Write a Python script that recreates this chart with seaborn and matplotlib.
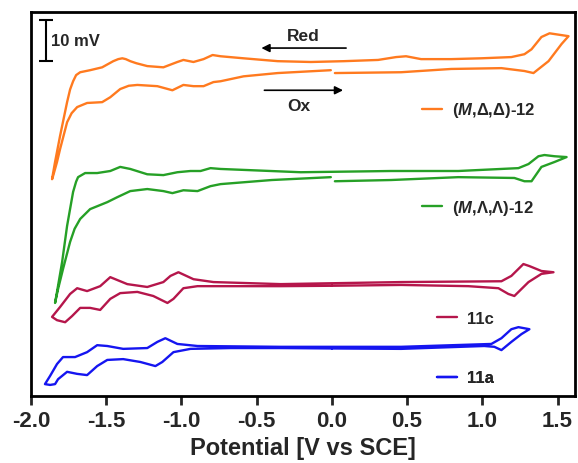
import pandas as pd
import matplotlib.pyplot as plt
import seaborn as sns
from matplotlib.lines import Line2D

# Potencial (V vs SCE) e corrente (unidades da barra de escala, curvas deslocadas)
orange_E = [0.02, 0.46, 0.793, 1.127, 1.28, 1.34, 1.44, 1.527, 1.573,
            1.447, 1.393, 1.327, 1.28, 1.193, 0.993, 0.793, 0.593, 0.493, 0.427, 0.307, 0.08,
            -0.14, -0.36, -0.587, -0.74, -0.793, -0.853, -0.92, -0.987, -1.027, -1.12, -1.227,
            -1.30, -1.34, -1.37, -1.393, -1.42, -1.453, -1.527, -1.607, -1.673, -1.70, -1.72,
            -1.74, -1.76, -1.807, -1.84, -1.86,
            -1.853, -1.827, -1.807, -1.76, -1.73, -1.693, -1.627, -1.527, -1.473, -1.407,
            -1.35, -1.293, -1.16, -1.06, -0.987, -0.92, -0.853, -0.787, -0.74, -0.587, -0.36,
            -0.007]
orange_I = [78.8, 79.0, 79.8, 80.0, 79.3, 78.8, 81.7, 85.9, 87.8,
            88.5, 87.6, 84.6, 83.4, 82.7, 82.4, 82.2, 82.2, 82.9, 82.7, 82.0, 81.7,
            81.5, 81.7, 82.4, 82.9, 83.2, 82.2, 81.5, 82.0, 81.5, 80.2, 80.5,
            81.2, 81.7, 82.2, 82.4, 82.2, 81.7, 80.2, 79.5, 79.0, 78.3, 76.8,
            74.8, 71.7, 63.4, 57.1, 52.9,
            53.7, 57.1, 60.2, 66.8, 69.0, 70.5, 71.5, 71.7, 72.9, 74.9,
            75.7, 75.9, 75.6, 74.6, 75.9, 75.6, 75.6, 76.6, 76.8, 78.0, 78.8,
            79.5]

green_E = [0.02, 0.393, 0.84, 1.213, 1.28, 1.327, 1.393, 1.48, 1.56,
           1.48, 1.413, 1.373, 1.307, 1.24, 0.84, 0.393, -0.207, -0.74, -0.807, -0.873,
           -0.94, -1.027, -1.12, -1.227, -1.34, -1.407, -1.473, -1.56, -1.64, -1.687, -1.70,
           -1.72, -1.76, -1.793, -1.827, -1.84,
           -1.82, -1.787, -1.74, -1.71, -1.673, -1.607, -1.493, -1.427, -1.34, -1.227, -1.12,
           -1.06, -0.987, -0.893, -0.807, -0.74, -0.4, -0.007]
green_I = [52.4, 52.7, 53.4, 53.2, 52.4, 52.4, 55.9, 57.1, 58.3,
           58.5, 58.8, 58.5, 56.6, 55.6, 54.9, 54.9, 54.6, 55.4, 55.6, 54.9,
           54.9, 54.6, 53.9, 54.1, 55.4, 55.9, 54.9, 54.4, 54.4, 53.4, 52.3,
           49.8, 41.5, 32.7, 25.4, 22.7,
           26.1, 31.0, 37.6, 40.8, 43.2, 45.6, 47.3, 48.5, 50.0, 50.5, 50.0,
           49.5, 50.2, 50.0, 51.2, 51.7, 52.7, 53.4]

red_E = [0.0, 0.46, 0.907, 1.107, 1.173, 1.213, 1.307, 1.393, 1.473,
         1.393, 1.313, 1.273, 1.193, 1.127, 0.46, -0.34, -0.787, -0.92, -1.02, -1.073,
         -1.12, -1.227, -1.36, -1.473, -1.54, -1.627, -1.693, -1.74, -1.807, -1.86,
         -1.827, -1.773, -1.727, -1.673, -1.607, -1.54, -1.473, -1.407, -1.293, -1.187,
         -1.093, -1.053, -0.987, -0.893, -0.673, -0.34, 0.0]
red_I = [26.9, 27.1, 26.8, 26.3, 24.9, 24.4, 27.8, 29.8, 30.2,
         30.5, 31.7, 32.2, 29.3, 28.0, 27.8, 27.3, 27.8, 28.5, 30.2, 29.3,
         27.8, 26.6, 27.3, 29.0, 26.8, 25.6, 26.3, 24.9, 21.7, 19.3,
         18.5, 18.0, 19.5, 21.5, 21.5, 21.0, 23.7, 25.1, 25.4, 24.4,
         22.7, 23.7, 26.3, 26.8, 26.8, 26.8, 26.9]

blue_E = [0.0, 0.46, 1.013, 1.08, 1.127, 1.193, 1.26, 1.313,
          1.24, 1.193, 1.127, 1.06, 0.46, -0.34, -0.893, -1.027, -1.107, -1.16, -1.227,
          -1.387, -1.493, -1.56, -1.627, -1.707, -1.787, -1.827, -1.873, -1.907,
          -1.873, -1.84, -1.82, -1.76, -1.693, -1.627, -1.56, -1.493, -1.387, -1.273,
          -1.173, -1.127, -1.053, -0.94, -0.673, -0.34, 0.0]
blue_I = [11.6, 11.5, 12.2, 12.0, 11.2, 13.2, 15.1, 16.3,
          16.8, 16.3, 14.1, 12.7, 12.0, 12.0, 12.2, 12.7, 14.1, 13.2, 11.7,
          11.5, 12.2, 12.4, 10.7, 9.5, 9.5, 7.8, 4.9, 2.9,
          2.7, 2.9, 4.1, 5.9, 5.4, 5.1, 7.3, 8.8, 9.0, 8.3,
          7.3, 8.3, 10.7, 11.5, 11.7, 11.7, 11.6]

labels = [r'($\it{M}$,Δ,Δ)-12', r'($\it{M}$,Λ,Λ)-12', '11c', '11a']
colors = ['#FF7A1F', '#26A026', '#B5164B', '#1515F0']
ticks = [-2.0, -1.5, -1.0, -0.5, 0.0, 0.5, 1.0, 1.5]

sns.set_style('white')
plt.rcParams['font.family'] = ['Liberation Sans', 'DejaVu Sans']
plt.rcParams['font.weight'] = 'bold'
plt.rcParams['axes.unicode_minus'] = False
plt.rcParams['mathtext.fontset'] = 'custom'
plt.rcParams['mathtext.it'] = 'Liberation Sans:italic:bold'
plt.rcParams['mathtext.rm'] = 'Liberation Sans:bold'

fig = plt.figure(figsize=(5.78, 4.64), dpi=100)
ax = fig.add_axes([0.0536, 0.1444, 0.9412, 0.8276])

curvas = [(orange_E, orange_I), (green_E, green_I), (red_E, red_I), (blue_E, blue_I)]
for (E, I), cor in zip(curvas, colors):
    df = pd.DataFrame({'E': E, 'I': I})
    sns.lineplot(data=df, x='E', y='I', sort=False, estimator=None, color=cor,
                 lw=1.7, ax=ax, solid_joinstyle='round', solid_capstyle='round')

# rótulos ao lado de cada curva
posicoes = [(0.719, 0.745), (0.719, 0.492), (0.746, 0.203), (0.746, 0.047)]
for lab, cor, pos in zip(labels, colors, posicoes):
    h = Line2D([], [], color=cor, lw=1.7)
    leg = ax.legend([h], [lab], loc='center left', bbox_to_anchor=pos, frameon=False,
                    borderpad=0, borderaxespad=0, handlelength=1.2, handletextpad=0.6,
                    prop={'weight': 'bold', 'size': 12})
    ax.add_artist(leg)

# barra de escala
ax.errorbar(-1.90, 86.8, yerr=5.0, color='black', lw=1.5, capsize=5, capthick=1.5)
ax.text(-1.87, 86.8, '10 mV', fontsize=12, fontweight='bold', va='center', ha='left')

# setas de varredura
ax.annotate('', xy=(-0.487, 84.9), xytext=(0.113, 84.9),
            arrowprops=dict(arrowstyle='-|>', color='black', lw=1.2, mutation_scale=12))
ax.text(-0.187, 88.0, 'Red', fontsize=12.5, fontweight='bold', ha='center', va='center')
ax.annotate('', xy=(0.093, 74.6), xytext=(-0.467, 74.6),
            arrowprops=dict(arrowstyle='-|>', color='black', lw=1.2, mutation_scale=12))
ax.text(-0.22, 71.0, 'Ox', fontsize=12.5, fontweight='bold', ha='center', va='center')

ax.set_xlim(-2.0, 1.616)
ax.set_ylim(0, 93.7)
ax.set_xticks(ticks)
ax.set_xticklabels([f'{t:.1f}' for t in ticks])
ax.set_yticks([])
ax.set_ylabel('')
ax.set_xlabel('Potential [V vs SCE]', fontsize=17, fontweight='bold', labelpad=4)
ax.tick_params(axis='x', direction='out', length=6.5, width=2, labelsize=16, bottom=True)
for sp in ax.spines.values():
    sp.set_linewidth(2)
    sp.set_color('black')

fig.savefig('out.png', dpi=100)
